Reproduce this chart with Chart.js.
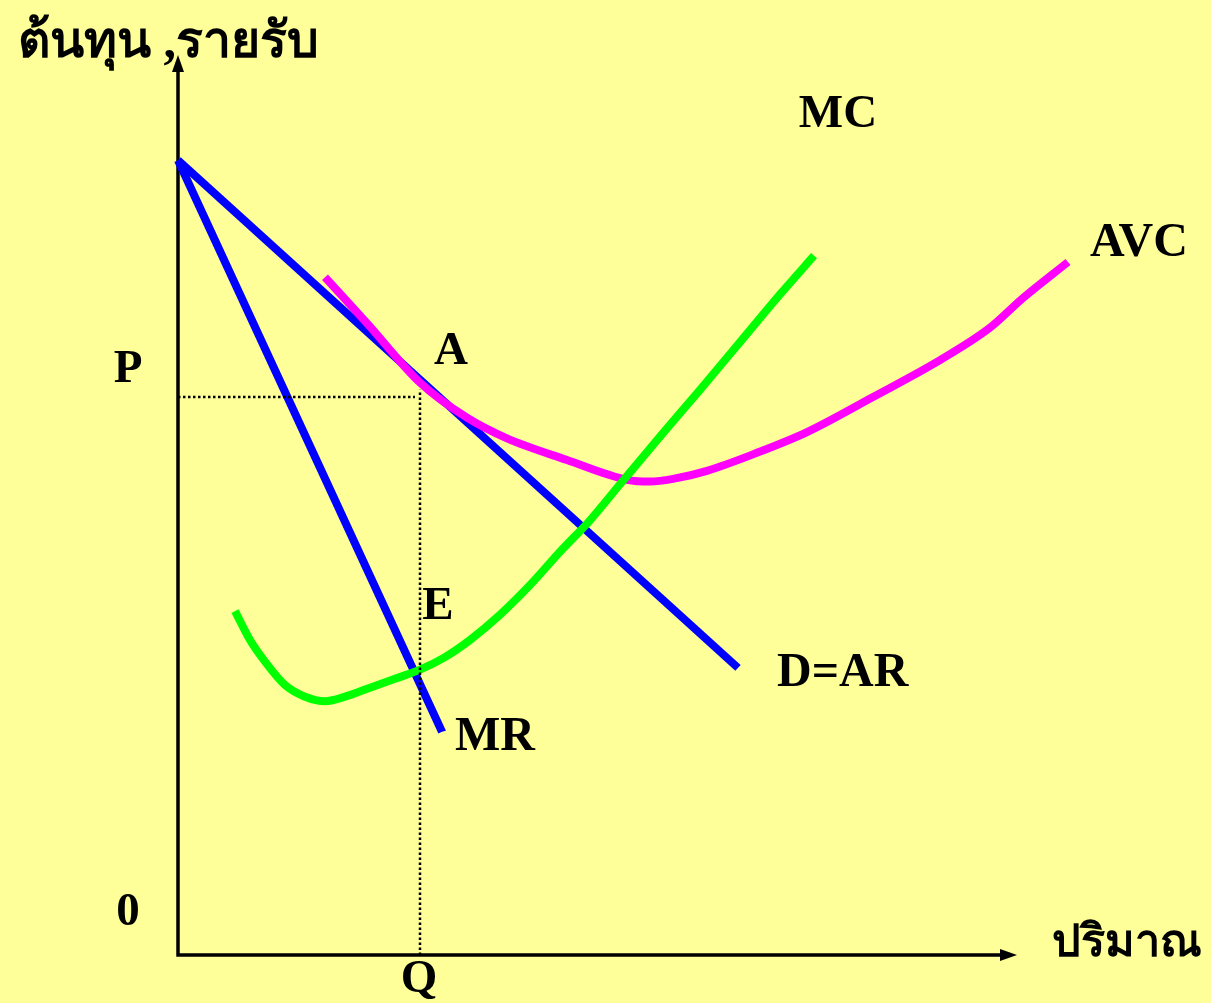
<!DOCTYPE html>
<html>
<head>
<meta charset="utf-8">
<script src="https://cdn.jsdelivr.net/npm/chart.js@4.4.1/dist/chart.umd.min.js"></script>
<style>
  html, body { margin: 0; padding: 0; background: #FFFF99; }
  canvas { display: block; }
</style>
</head>
<body>
<canvas id="chart" width="1211" height="1003"></canvas>
<script>
// demand / marginal revenue (straight lines)
const arX = [0, 56.0];
const arY = [88.3, 31.9];
const mrX = [0, 26.4];
const mrY = [88.3, 24.8];

// marginal cost
const mcX = [5.7, 7.2, 8.7, 10.7, 12.7, 14.7, 16.7, 19.2, 21.7, 24.2, 26.7, 29.2, 32.2, 35.2, 38.2, 41.2, 44.2, 48.2, 52.2, 56.2, 60.2, 63.6];
const mcY = [38.2, 35.0, 32.6, 30.0, 28.7, 28.2, 28.7, 29.7, 30.7, 31.7, 33.1, 35.0, 37.8, 41.1, 44.8, 48.3, 52.3, 57.6, 62.8, 68.1, 73.4, 77.7];

// average variable cost
const avcX = [14.7, 18.9, 24.2, 28.9, 32.9, 38.9, 44.9, 47.2, 49.5, 52.9, 57.9, 62.9, 69.5, 76.2, 81.2, 84.5, 89.0];
const avcY = [75.3, 70.2, 63.6, 59.7, 57.4, 55.0, 52.8, 52.6, 52.9, 53.8, 55.8, 58.1, 62.0, 66.1, 69.7, 73.0, 77.0];

// equilibrium quantity and price
const qValue = 24.2;
const pValue = 62.0;

// axis extents
const xAxisEnd = 83.9;
const yAxisEnd = 100;

const labels = [
    { text: 'ต้นทุน ,รายรับ', x: -16.0, y: 101.2, align: 'left', size: 50, thai: true },
    { text: 'ปริมาณ', x: 87.4, y: 1.2, align: 'left', size: 45, thai: true },
    { text: 'MC', x: 66.0, y: 93.3, align: 'center', size: 47 },
    { text: 'AVC', x: 91.2, y: 79.1, align: 'left', size: 48 },
    { text: 'P', x: -5.0, y: 65.0, align: 'center', size: 47 },
    { text: 'A', x: 27.3, y: 67.0, align: 'center', size: 47 },
    { text: 'E', x: 26.0, y: 38.7, align: 'center', size: 47 },
    { text: 'MR', x: 27.7, y: 24.2, align: 'left', size: 48 },
    { text: 'D=AR', x: 59.9, y: 31.3, align: 'left', size: 48 },
    { text: '0', x: -5.0, y: 4.7, align: 'center', size: 47 },
    { text: 'Q', x: 24.1, y: -2.8, align: 'center', size: 47 }
];

const zip = (xs, ys) => xs.map((x, i) => ({ x: x, y: ys[i] }));

const curve = (data, color) => ({
    data: data,
    borderColor: color,
    borderWidth: 8,
    pointRadius: 0,
    borderCapStyle: 'butt',
    cubicInterpolationMode: 'monotone',
    clip: false
});

const dotted = (data) => ({
    data: data,
    borderColor: '#000',
    borderWidth: 2.5,
    borderDash: [2.5, 2.5],
    pointRadius: 0,
    tension: 0,
    clip: false
});

const axesPlugin = {
    id: 'axes',
    beforeDatasetsDraw(chart) {
        const { ctx, scales: { x, y } } = chart;
        const ox = x.getPixelForValue(0);
        const oy = y.getPixelForValue(0);
        const xe = x.getPixelForValue(xAxisEnd);
        const ye = y.getPixelForValue(yAxisEnd);
        ctx.save();
        ctx.strokeStyle = '#000';
        ctx.fillStyle = '#000';
        ctx.lineWidth = 3.5;
        ctx.beginPath();
        ctx.moveTo(ox, ye + 12);
        ctx.lineTo(ox, oy);
        ctx.lineTo(xe - 12, oy);
        ctx.stroke();
        // arrow heads
        ctx.beginPath();
        ctx.moveTo(ox, ye);
        ctx.lineTo(ox - 6, ye + 17);
        ctx.lineTo(ox + 6, ye + 17);
        ctx.closePath();
        ctx.fill();
        ctx.beginPath();
        ctx.moveTo(xe, oy);
        ctx.lineTo(xe - 17, oy - 6);
        ctx.lineTo(xe - 17, oy + 6);
        ctx.closePath();
        ctx.fill();
        ctx.restore();
    },
    afterDatasetsDraw(chart) {
        const { ctx, scales: { x, y } } = chart;
        ctx.save();
        ctx.fillStyle = '#000';
        ctx.textBaseline = 'middle';
        labels.forEach(l => {
            ctx.font = 'bold ' + l.size + 'px "Liberation Serif", "Times New Roman", serif';
            ctx.textAlign = l.align;
            ctx.fillText(l.text, x.getPixelForValue(l.x), y.getPixelForValue(l.y));
        });
        ctx.restore();
    }
};

new Chart(document.getElementById('chart').getContext('2d'), {
    type: 'line',
    data: {
        datasets: [
            dotted([{ x: 0, y: pValue }, { x: qValue - 0.5, y: pValue }]),
            dotted([{ x: qValue, y: 0 }, { x: qValue, y: pValue + 0.8 }]),
            curve(zip(mcX, mcY), '#00FF00'),
            curve(zip(avcX, avcY), '#FF00FF'),
            curve(zip(mrX, mrY), '#0000FF'),
            curve(zip(arX, arY), '#0000FF')
        ]
    },
    options: {
        responsive: false,
        animation: false,
        events: [],
        layout: { padding: { left: 178, right: 33, top: 55, bottom: 48 } },
        plugins: { legend: { display: false }, tooltip: { enabled: false } },
        scales: {
            x: { type: 'linear', min: 0, max: 100, display: false },
            y: { type: 'linear', min: 0, max: 100, display: false }
        }
    },
    plugins: [axesPlugin]
});
</script>
</body>
</html>
